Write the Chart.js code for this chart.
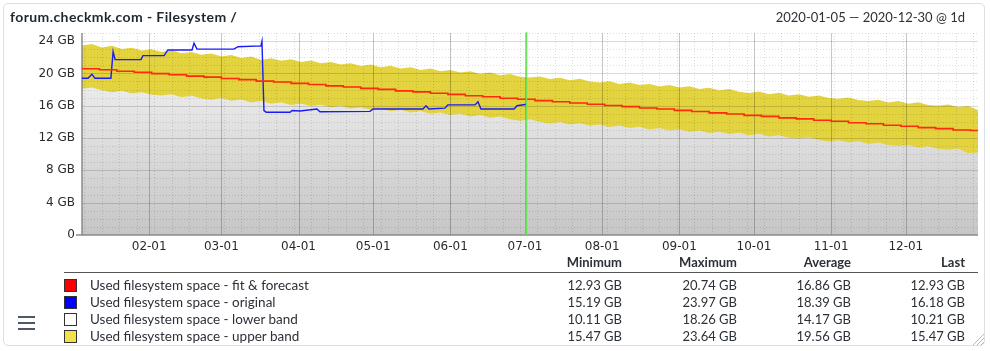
<!DOCTYPE html>
<html>
<head>
<meta charset="utf-8">
<script src="https://cdn.jsdelivr.net/npm/chart.js@4/dist/chart.umd.min.js"></script>
<style>
  body { margin: 0; background: #fff; font-family: Lato, "Noto Sans", sans-serif; color: #2c3138; }
  #card { position: absolute; left: 3px; top: 3px; width: 982px; height: 343px; border: 1px solid #dcdfe3; border-radius: 5px; box-sizing: border-box; }
  #titulo { position: absolute; left: 10px; top: 8px; font-size: 14px; font-weight: bold; letter-spacing: 0.4px; color: #1f2630; }
  #rango { position: absolute; right: 25px; top: 9px; font-size: 13px; color: #2c3138; }
  #grafica { position: absolute; left: 0; top: 0; }
  #leyenda { position: absolute; left: 0; top: 0; width: 990px; font-size: 13px; }
  .fila { position: absolute; left: 0; width: 990px; height: 17px; line-height: 17px; }
  .celda { position: absolute; top: 0; text-align: right; white-space: nowrap; }
  .caja { position: absolute; left: 64px; top: 2px; width: 11px; height: 11px; border: 1px solid #333; }
  .nombre { position: absolute; left: 90px; top: 0; white-space: nowrap; font-size: 13.5px; }
  #linea { position: absolute; left: 64px; top: 272px; width: 914px; height: 0; border-top: 1.5px solid #555; }
  #menu { position: absolute; left: 18px; top: 316px; width: 17px; }
  #menu div { height: 2px; background: #4d5866; margin-bottom: 4px; }
  #resize { position: absolute; left: 971px; top: 332px; }
</style>
</head>
<body>
<div id="card"></div>
<canvas id="grafica" width="990" height="265"></canvas>
<div id="titulo">forum.checkmk.com - Filesystem /</div>
<div id="rango">2020-01-05 — 2020-12-30 @ 1d</div>
<div id="leyenda"></div>
<div id="linea"></div>
<div id="menu"><div></div><div></div><div></div></div>
<svg id="resize" width="14" height="14">
  <line x1="13" y1="2" x2="2" y2="13" stroke="#b5b5b5" stroke-width="1"/>
  <line x1="13" y1="6" x2="6" y2="13" stroke="#b5b5b5" stroke-width="1"/>
  <line x1="13" y1="10" x2="10" y2="13" stroke="#b5b5b5" stroke-width="1"/>
</svg>

<script>
// days counted from 2020-01-05
const monthDays = [27, 56, 87, 117, 148, 178, 209, 240, 270, 301, 331];
const monthLabels = ['02-01', '03-01', '04-01', '05-01', '06-01', '07-01', '08-01', '09-01', '10-01', '11-01', '12-01'];
const yTicks = [0, 4, 8, 12, 16, 20, 24];
const nowDay = 178.5;

// fit & forecast (GB), one value per week
const fitDays = [0, 7, 14, 21, 28, 35, 42, 49, 56, 63, 70, 77, 84, 91, 98, 105, 112, 119, 126, 133, 140, 147, 154, 161, 168, 175,
  182, 189, 196, 203, 210, 217, 224, 231, 238, 245, 252, 259, 266, 273, 280, 287, 294, 301, 308, 315, 322, 329, 336, 343, 350, 357, 360];
const fitGB = [20.74, 20.58, 20.46, 20.27, 20.14, 19.97, 19.84, 19.66, 19.54, 19.36, 19.23, 19.05, 18.93, 18.76, 18.62, 18.45, 18.32, 18.15, 18.02, 17.84,
  17.71, 17.54, 17.41, 17.24, 17.11, 16.93, 16.80, 16.63, 16.50, 16.33, 16.19, 16.02, 15.89, 15.72, 15.59, 15.42, 15.28, 15.11, 14.98, 14.81,
  14.68, 14.50, 14.37, 14.20, 14.07, 13.90, 13.76, 13.59, 13.46, 13.29, 13.16, 12.99, 12.93];

// original measurements (GB)
const origDays = [0, 2.4, 4, 5.2, 11.6, 12.5, 13.3, 23.7, 24.5, 33, 34.5, 44.2, 45, 46.2, 61, 62.7, 71.9, 72.3, 73.1, 74,
  83.6, 84.4, 87.6, 94.4, 95.6, 115.7, 117, 137, 138.2, 139.4, 145.8, 147, 157.9, 159.1, 160.3, 173.6, 174.8, 178.8];
const origGB = [19.4, 19.4, 19.9, 19.4, 19.4, 22.7, 21.7, 21.7, 22.2, 22.2, 22.9, 22.9, 23.75, 23.0, 23.0, 23.3, 23.4, 23.97, 15.4, 15.2,
  15.2, 15.4, 15.35, 15.6, 15.25, 15.3, 15.6, 15.6, 16.0, 15.6, 15.7, 16.1, 16.1, 16.5, 15.6, 15.6, 16.0, 16.18];

// bands (GB), one value every 4 days
const bandStep = 4;
const upperGB = [23.45, 23.64, 23.22, 23.41, 23.02, 23.18, 22.84, 22.99, 22.66, 22.86, 22.50, 22.64, 22.30, 22.47, 22.10, 22.29, 21.90, 22.10, 21.66, 21.89,
  21.58, 21.74, 21.42, 21.60, 21.26, 21.42, 21.10, 21.27, 20.92, 21.10, 20.76, 20.95, 20.60, 20.77, 20.43, 20.60, 20.26, 20.43, 20.10, 20.27,
  19.93, 20.10, 19.77, 19.93, 19.58, 19.48, 19.63, 19.30, 19.47, 19.15, 19.33, 19.00, 18.88, 19.03, 18.70, 18.87, 18.55, 18.70, 18.37, 18.55,
  18.25, 18.40, 18.07, 18.23, 17.90, 18.07, 17.73, 17.58, 17.75, 17.43, 17.60, 17.27, 17.43, 17.10, 17.27, 16.95, 16.87, 17.03, 16.70, 16.57,
  16.73, 16.40, 16.57, 16.25, 16.43, 16.10, 16.00, 16.15, 15.83, 15.98, 15.47];
const lowerGB = [18.10, 18.26, 17.90, 17.66, 17.86, 17.50, 17.66, 17.35, 17.25, 17.42, 17.05, 17.24, 16.90, 16.75, 16.96, 16.60, 16.76, 16.40, 16.59, 16.25,
  16.42, 16.10, 16.26, 15.95, 16.12, 15.80, 15.96, 15.65, 15.82, 15.50, 15.66, 15.33, 15.49, 15.17, 15.34, 15.00, 15.16, 14.85, 15.02, 14.67,
  14.84, 14.50, 14.66, 14.33, 14.15, 14.32, 14.00, 13.80, 13.99, 13.67, 13.84, 13.53, 13.69, 13.37, 13.54, 13.23, 13.39, 13.07, 13.24, 12.93,
  13.09, 12.77, 12.94, 12.63, 12.79, 12.50, 12.66, 12.35, 12.52, 12.20, 12.36, 12.05, 11.93, 12.06, 11.75, 11.57, 11.74, 11.45, 11.59, 11.27,
  11.44, 11.13, 11.00, 11.14, 10.83, 10.99, 10.67, 10.55, 10.69, 10.11, 10.21];

// legend table
const legendNames = ['Used filesystem space - fit & forecast', 'Used filesystem space - original', 'Used filesystem space - lower band', 'Used filesystem space - upper band'];
const legendColors = ['#ff0000', '#0000ff', '#ffffff', '#f2e24a'];
const minVals = ['12.93 GB', '15.19 GB', '10.11 GB', '15.47 GB'];
const maxVals = ['20.74 GB', '23.97 GB', '18.26 GB', '23.64 GB'];
const avgVals = ['16.86 GB', '18.39 GB', '14.17 GB', '19.56 GB'];
const lastVals = ['12.93 GB', '16.18 GB', '10.21 GB', '15.47 GB'];
const colHeaders = ['Minimum', 'Maximum', 'Average', 'Last'];
const colRights = [622, 737, 851, 965];

const toPoints = (xs, ys) => ys.map((v, i) => ({ x: xs[i], y: v }));
const bandPoints = (ys) => ys.map((v, i) => ({ x: i * bandStep, y: v }));

const buildLegend = () => {
    let html = '<div class="fila" style="top:254px;font-weight:bold">';
    colHeaders.forEach((h, j) => {
        html += `<span class="celda" style="right:${990 - colRights[j]}px">${h}</span>`;
    });
    html += '</div>';
    let cols = [minVals, maxVals, avgVals, lastVals];
    legendNames.forEach((n, i) => {
        html += `<div class="fila" style="top:${277 + i * 17}px">`;
        html += `<span class="caja" style="background:${legendColors[i]}"></span>`;
        html += `<span class="nombre">${n.replace('&', '&amp;')}</span>`;
        cols.forEach((c, j) => {
            html += `<span class="celda" style="right:${990 - colRights[j]}px">${c[i]}</span>`;
        });
        html += '</div>';
    });
    document.getElementById('leyenda').innerHTML = html;
}

// grid + axes + "now" line, drawn after the band fills but before the lines
const gridCmk = {
    id: 'gridCmk',
    beforeDatasetDraw(chart, args) {
        if (args.index !== 1) return;
        const ctx = chart.ctx;
        const a = chart.chartArea;
        const xs = chart.scales.x;
        const ys = chart.scales.y;
        ctx.save();
        ctx.lineWidth = 1;
        // minor horizontal lines every GB
        ctx.strokeStyle = 'rgba(0,0,0,0.13)';
        ctx.setLineDash([1, 2]);
        for (let g = 1; g <= 25; g++) {
            if (g % 4 === 0) continue;
            let y = Math.round(ys.getPixelForValue(g)) + 0.5;
            ctx.beginPath(); ctx.moveTo(a.left, y); ctx.lineTo(a.right, y); ctx.stroke();
        }
        // minor vertical lines, every monday
        for (let d = 1; d < 360; d += 7) {
            let x = Math.round(xs.getPixelForValue(d)) + 0.5;
            ctx.beginPath(); ctx.moveTo(x, a.top); ctx.lineTo(x, a.bottom); ctx.stroke();
        }
        ctx.setLineDash([]);
        ctx.strokeStyle = 'rgba(0,0,0,0.15)';
        yTicks.forEach(g => {
            if (g === 0) return;
            let y = Math.round(ys.getPixelForValue(g)) + 0.5;
            ctx.beginPath(); ctx.moveTo(a.left, y); ctx.lineTo(a.right, y); ctx.stroke();
        });
        ctx.strokeStyle = 'rgba(0,0,0,0.22)';
        monthDays.forEach(d => {
            let x = Math.round(xs.getPixelForValue(d)) + 0.5;
            ctx.beginPath(); ctx.moveTo(x, a.top); ctx.lineTo(x, a.bottom); ctx.stroke();
        });
        // axes
        ctx.strokeStyle = '#8a8a8a';
        ctx.lineWidth = 1.5;
        ctx.beginPath(); ctx.moveTo(a.left, a.top); ctx.lineTo(a.left, a.bottom); ctx.stroke();
        ctx.beginPath(); ctx.moveTo(a.left - 6, a.bottom); ctx.lineTo(a.right, a.bottom); ctx.stroke();
        ctx.restore();
    },
    afterDatasetsDraw(chart) {
        const ctx = chart.ctx;
        const a = chart.chartArea;
        let x = Math.round(chart.scales.x.getPixelForValue(nowDay)) + 0.5;
        ctx.save();
        ctx.strokeStyle = '#6be35a';
        ctx.lineWidth = 1.5;
        ctx.beginPath(); ctx.moveTo(x, a.top - 1); ctx.lineTo(x, a.bottom); ctx.stroke();
        ctx.restore();
    }
}

const grayFill = (context) => {
    const a = context.chart.chartArea;
    if (!a) return '#e0e0e0';
    let g = context.chart.ctx.createLinearGradient(0, a.top, 0, a.bottom);
    g.addColorStop(0, '#f8f8f8');
    g.addColorStop(1, '#c6c6c6');
    return g;
}

const renderGrafica = () => {
    const data = {
        datasets: [{
            label: legendNames[0],
            data: toPoints(fitDays, fitGB),
            borderColor: '#ff2a0a',
            borderWidth: 1.6,
            stepped: 'after',
            pointRadius: 0,
            fill: false
        }, {
            label: legendNames[1],
            data: toPoints(origDays, origGB),
            borderColor: '#1b1bf5',
            borderWidth: 1.4,
            pointRadius: 0,
            tension: 0,
            fill: false
        }, {
            label: legendNames[2],
            data: bandPoints(lowerGB),
            borderWidth: 0,
            pointRadius: 0,
            backgroundColor: grayFill,
            fill: 'origin'
        }, {
            label: legendNames[3],
            data: bandPoints(upperGB),
            borderWidth: 0,
            pointRadius: 0,
            backgroundColor: '#e2d33f',
            fill: 'origin'
        }]
    };

    new Chart('grafica', {
        type: 'line',
        data: data,
        plugins: [gridCmk],
        options: {
            responsive: false,
            animation: false,
            events: [],
            layout: { padding: { top: 33, right: 12, left: 0, bottom: 0 } },
            plugins: {
                legend: { display: false },
                tooltip: { enabled: false }
            },
            scales: {
                x: {
                    type: 'linear',
                    min: 0,
                    max: 360,
                    afterBuildTicks: (axis) => { axis.ticks = monthDays.map(d => ({ value: d })); },
                    afterFit: (axis) => { axis.height = 30; },
                    grid: { display: false, drawTicks: false },
                    border: { display: false },
                    ticks: {
                        autoSkip: false,
                        maxRotation: 0,
                        padding: 5,
                        color: '#2b2b2b',
                        font: { family: 'DejaVu Sans', size: 12 },
                        callback: (v, i) => monthLabels[i]
                    }
                },
                y: {
                    min: 0,
                    max: 25,
                    afterBuildTicks: (axis) => { axis.ticks = yTicks.map(v => ({ value: v })); },
                    afterFit: (axis) => { axis.width = 82; },
                    grid: { display: false, drawTicks: false },
                    border: { display: false },
                    ticks: {
                        padding: 7,
                        color: '#2b2b2b',
                        font: { family: 'DejaVu Sans', size: 12 },
                        callback: (v) => v === 0 ? '0' : v + ' GB'
                    }
                }
            }
        }
    })
}

buildLegend();
renderGrafica();
</script>
</body>
</html>
